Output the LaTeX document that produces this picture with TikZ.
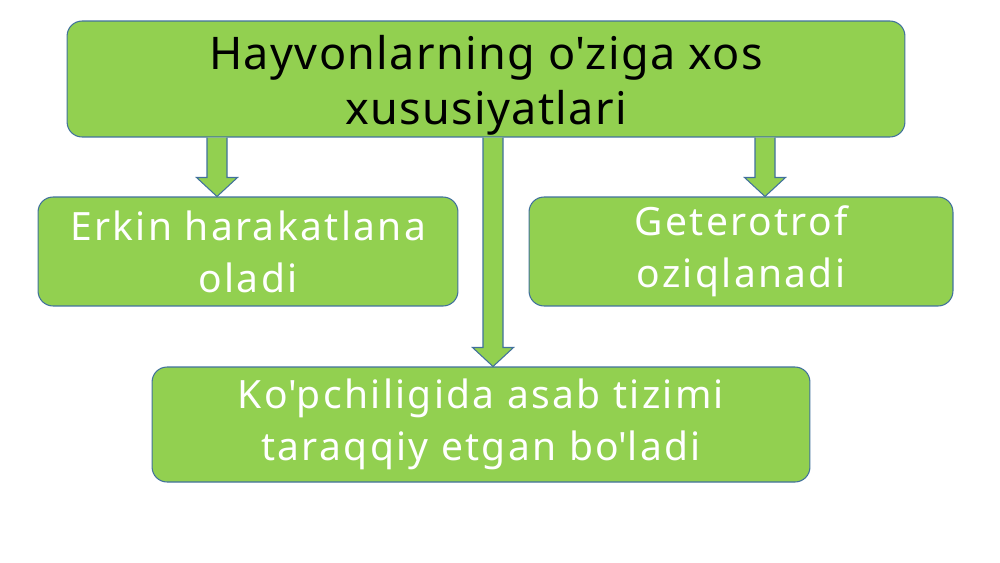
\documentclass[tikz,border=0pt]{standalone}
\usepackage{fontspec}
\setmainfont{Noto Sans}
\usetikzlibrary{calc}
\definecolor{boxGreen}{HTML}{92D050}
\definecolor{boxEdge}{HTML}{41719C}
\newcommand{\apos}{\textquotesingle}
\newcommand{\titleFont}{\fontsize{25.6}{31.3}\selectfont\addfontfeatures{LetterSpace=3}}
\newcommand{\boxFont}{\fontsize{22.2}{29.6}\selectfont\addfontfeatures{LetterSpace=6}}
\tikzset{
	infoBox/.style={draw=boxEdge, fill=boxGreen, line width=0.6pt, rounded corners=0.3cm, align=center, inner sep=0pt, text=white, font=\boxFont},
	arrowBody/.style={draw=boxEdge, fill=boxGreen, line width=0.6pt, line join=miter}
}
%block arrow going straight down from #1 to the height of #2
\newcommand{\blockArrowDown}[2]{
	\draw[arrowBody] let \p1=(#1), \p2=(#2) in
		(\x1-0.2cm,\y1) -- (\x1-0.2cm,\y2+0.38cm) -- (\x1-0.41cm,\y2+0.38cm) -- (\x1,\y2)
		-- (\x1+0.41cm,\y2+0.38cm) -- (\x1+0.2cm,\y2+0.38cm) -- (\x1+0.2cm,\y1);
}
\begin{document}
\begin{tikzpicture}[x=0.02cm, y=-0.02cm]
	\useasboundingbox (0,0) rectangle (1000,562);
	%boxes
	\node[infoBox, minimum width=16.76cm, minimum height=2.32cm, text=black, font=\titleFont] (animals) at (486,79) {\rule{0pt}{1.05em}Hayvonlarning o\apos ziga xos\\xususiyatlari};
	\node[infoBox, minimum width=8.4cm, minimum height=2.18cm] (movement) at (248,251.5) {Erkin harakatlana\\oladi};
	\node[infoBox, minimum width=8.48cm, minimum height=2.18cm] (feeding) at (741,251.5) {Geterotrof\\oziqlanadi};
	\node[infoBox, minimum width=13.16cm, minimum height=2.3cm] (nerves) at (481,424.5) {Ko\apos pchiligida asab tizimi\\taraqqiy etgan bo\apos ladi};
	
	%arrows
	\blockArrowDown{$(animals.south)+(-269,0)$}{movement.north}
	\blockArrowDown{$(animals.south)+(7,0)$}{nerves.north}
	\blockArrowDown{$(animals.south)+(279,0)$}{feeding.north}
\end{tikzpicture}
\end{document}
